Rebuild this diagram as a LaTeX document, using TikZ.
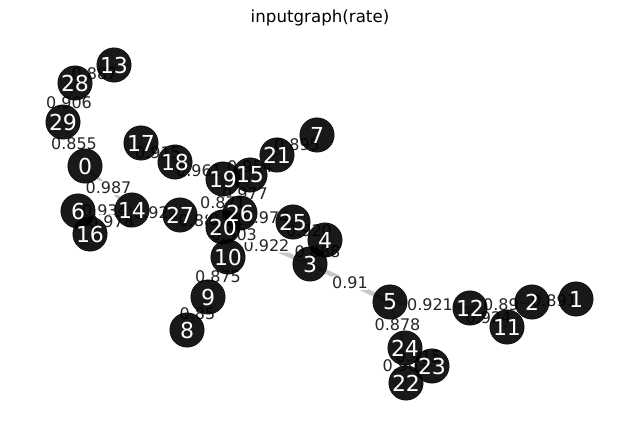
\documentclass[tikz,border=0pt]{standalone}
\usepackage{fontspec}
\setmainfont{DejaVu Sans}
\pgfdeclarelayer{edgelayer}
\pgfdeclarelayer{labellayer}
\pgfsetlayers{edgelayer,labellayer,main}
\begin{document}
\begin{tikzpicture}[x=0.75pt,y=-0.75pt,
  vtx/.style={circle, fill=black, fill opacity=0.9, draw=black, draw opacity=0.9, line width=0.4pt, minimum size=25.8pt, inner sep=0pt},
  vtxt/.style={text=white, font=\fontsize{16.5}{18}\selectfont, inner sep=0pt},
  ed/.style={draw=black!22, line cap=round},
  elab/.style={fill=white, rounded corners=2pt, inner sep=0.8pt, text=black!85, font=\fontsize{12}{13}\selectfont},
  ttl/.style={font=\fontsize{12.5}{14}\selectfont, text=black}]
\useasboundingbox (0,0) rectangle (640,427);
\node[ttl] (title) at (320,18) {inputgraph(rate)};
% vertices
\foreach \i/\x/\y in {0/85/166, 1/576/299, 2/532/302, 3/310/264, 4/325/240,
  5/390/302, 6/78/211, 7/317/135, 8/187/330, 9/208/297, 10/228/257,
  11/507/327, 12/470/308, 13/114/65, 14/132/210, 15/250/175, 16/90/234,
  17/141/143, 18/175/162, 19/223/179, 20/223/227, 21/277/155, 22/406/383,
  23/432/366, 24/405/348, 25/293/222, 26/240/213, 27/180/215, 28/75/83, 29/63/122}
  \node[vtx] (n\i) at (\x,\y) {};
\foreach \i in {0,...,29}
  \node[vtxt] (t\i) at (n\i.center) {\i};
% edges
\begin{pgfonlayer}{edgelayer}
\foreach \a/\b/\w in {13/28/1.5, 28/29/1.5, 29/0/1.5, 0/14/2.4, 6/14/1.5, 16/14/1.5,
  14/27/2.2, 27/20/2.2, 17/18/1.5, 18/19/1.5, 19/21/1.5, 21/7/1.5, 15/26/1.5,
  19/20/1.5, 20/26/1.5, 26/25/1.5, 25/4/1.5, 4/3/1.5, 20/3/3.4, 3/5/3.4,
  5/12/3.4, 12/2/2.4, 12/11/1.5, 2/1/2.2, 5/24/1.5, 24/22/1.5, 24/23/1.5,
  26/10/1.5, 10/9/1.5, 9/8/1.5}
  \draw[ed, line width=\w pt] (n\a.center) -- (n\b.center);
\end{pgfonlayer}
% edge labels
\begin{pgfonlayer}{labellayer}
\foreach \a/\b/\t [count=\k] in {13/28/0.887, 28/29/0.906, 29/0/0.855, 0/14/0.987,
  6/14/0.934, 16/14/0.978, 14/27/0.922, 27/20/0.887, 17/18/0.915, 18/19/0.961,
  19/21/0.954, 21/7/0.895, 15/26/0.977, 19/20/0.871, 20/26/0.912, 26/25/0.974,
  25/4/0.920, 4/3/0.888, 20/3/0.922, 3/5/0.91, 5/12/0.921, 12/2/0.89,
  12/11/0.924, 2/1/0.891, 5/24/0.878, 24/22/0.903, 24/23/0.915, 26/10/0.903,
  10/9/0.875, 9/8/0.85}
  \path (n\a.center) -- node[elab] (e\k) {\t} (n\b.center);
\end{pgfonlayer}
\end{tikzpicture}
\end{document}
